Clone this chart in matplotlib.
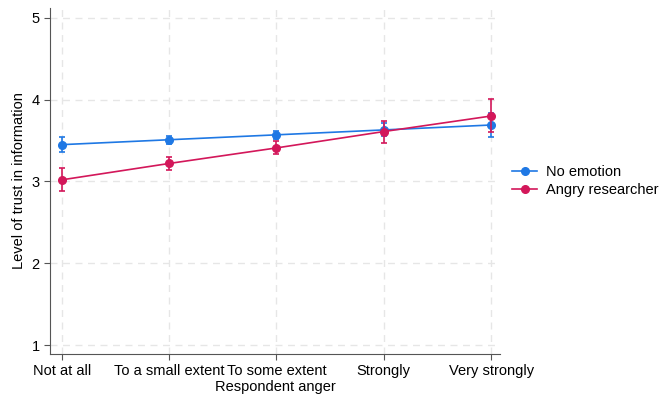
import numpy as np
import matplotlib
matplotlib.use("Agg")
import matplotlib.pyplot as plt

plt.rcParams['font.family'] = ['Liberation Sans', 'DejaVu Sans']

categories = ["Not at all", "To a small extent", "To some extent", "Strongly", "Very strongly"]
x = np.arange(1, 6)

no_emotion = [3.45, 3.51, 3.57, 3.63, 3.69]
no_emotion_lo = [3.36, 3.46, 3.52, 3.55, 3.54]
no_emotion_hi = [3.54, 3.56, 3.62, 3.72, 3.84]

angry = [3.02, 3.22, 3.41, 3.61, 3.80]
angry_lo = [2.88, 3.14, 3.33, 3.47, 3.60]
angry_hi = [3.16, 3.30, 3.49, 3.74, 4.01]

blue = '#1f78e4'
red = '#d3175a'

fig = plt.figure(figsize=(6.68, 4.01), dpi=100)
ax = fig.add_axes([0.075, 0.117, 0.673, 0.863])

for vals, lo, hi, col, lab in [(no_emotion, no_emotion_lo, no_emotion_hi, blue, "No emotion"),
                               (angry, angry_lo, angry_hi, red, "Angry researcher")]:
    vals = np.array(vals)
    err = [vals - np.array(lo), np.array(hi) - vals]
    ax.errorbar(x, vals, yerr=err, fmt='none', ecolor=col, elinewidth=1.2, capsize=2.5, capthick=1.2)
    ax.plot(x, vals, color=col, lw=1.2, marker='o', ms=5.5, label=lab)

ax.set_xlim(0.89, 5.08)
ax.set_ylim(0.89, 5.12)
ax.set_xticks(x)
ax.set_xticklabels(categories, fontsize=10.5)
ax.set_yticks([1, 2, 3, 4, 5])
ax.tick_params(axis='y', labelsize=10.5, length=4, color='#555555')
ax.tick_params(axis='x', length=4, color='#555555')
ax.grid(True, ls=(0, (5, 4)), color='#e6e6e6', lw=1)
ax.set_axisbelow(True)
for s in ['top', 'right']:
    ax.spines[s].set_visible(False)
for s in ['left', 'bottom']:
    ax.spines[s].set_color('#555555')
ax.set_xlabel("Respondent anger", fontsize=10.5, labelpad=1)
ax.set_ylabel("Level of trust in information", fontsize=10.5)

ax.legend(loc='center left', bbox_to_anchor=(1.012, 0.5), frameon=False, fontsize=10.5,
          handlelength=1.7, handletextpad=0.6, borderaxespad=0.3, borderpad=0.2,
          labelspacing=0.3)

fig.savefig("out.png", dpi=100)
